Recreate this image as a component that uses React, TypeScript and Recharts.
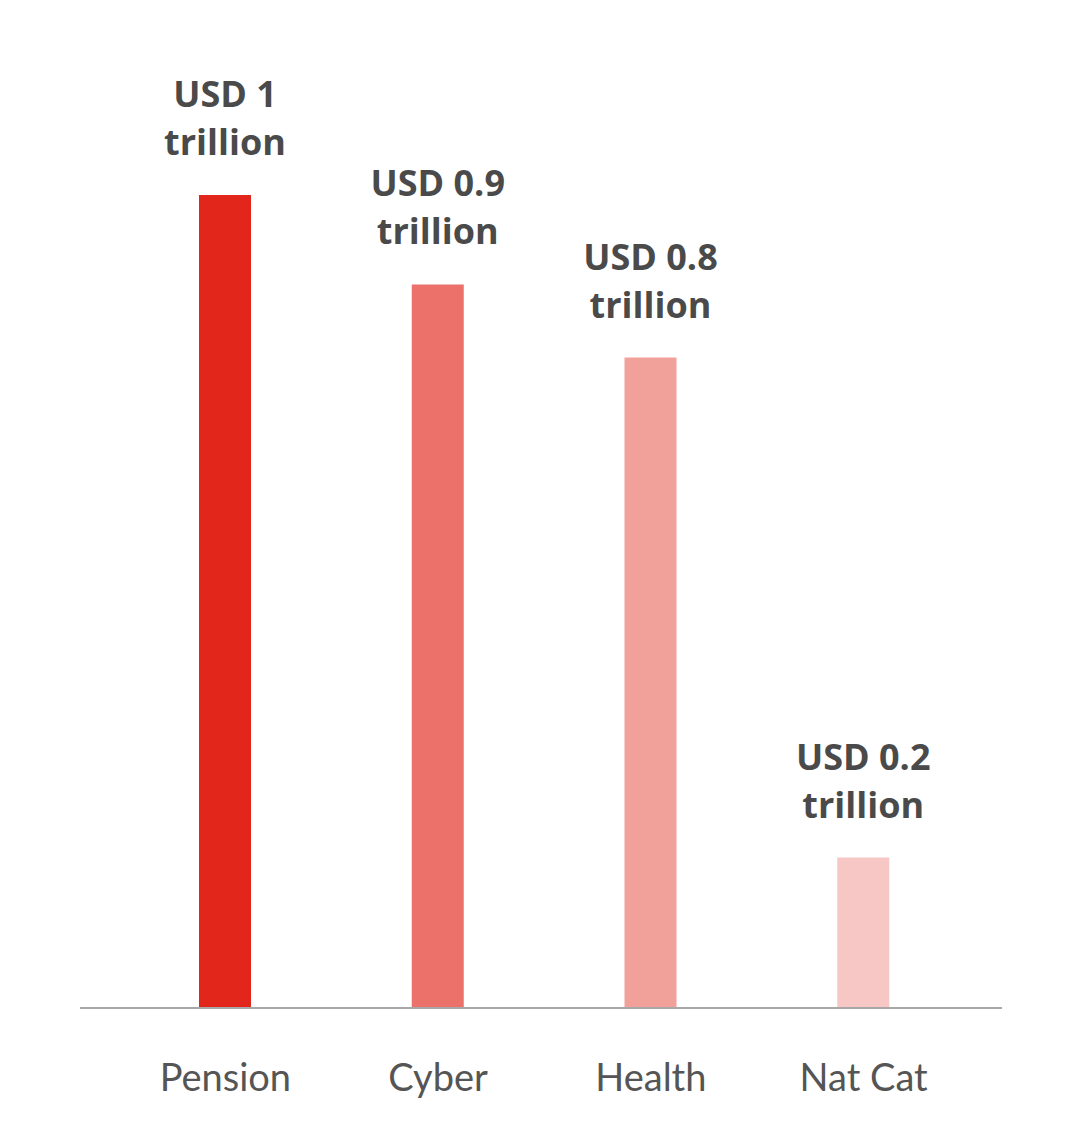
import React from 'react'
import { BarChart, Bar, XAxis, YAxis, Cell, LabelList } from 'recharts'

const categories = ['Pension', 'Cyber', 'Health', 'Nat Cat']
const values = [1, 0.89, 0.8, 0.185]
const labelTop = ['USD 1', 'USD 0.9', 'USD 0.8', 'USD 0.2']
const labelUnit = 'trillion'
const colors = ['#e3261b', '#ec716a', '#f1a09a', '#f7c7c5']

const data = categories.map((name, i) => ({ name, value: values[i] }))

const FONT = '"Open Sans", "Noto Sans", sans-serif'

function CategoryTick(props: any) {
  const { x, y, payload } = props
  return (
    <text x={x} y={y + 75} textAnchor="middle" fill="#555555" fontSize={38} fontFamily="Lato, sans-serif" fontWeight={400}>
      {payload.value}
    </text>
  )
}

function ValueLabel(props: any) {
  const { x, y, width, index } = props
  const cx = x + width / 2
  return (
    <text textAnchor="middle" fill="#4a4a4a" fontSize={36} fontWeight={700} fontFamily={FONT}>
      <tspan x={cx} y={y - 88}>{labelTop[index]}</tspan>
      <tspan x={cx} y={y - 40}>{labelUnit}</tspan>
    </text>
  )
}

export default function App() {
  return (
    <div style={{ position: 'absolute', left: 0, top: 0, background: '#fff' }}>
      <BarChart
        width={1089}
        height={1142}
        data={data}
        margin={{ top: 195, right: 87, bottom: 34, left: 80 }}
      >
        <XAxis
          dataKey="name"
          padding={{ left: 39, right: 32 }}
          axisLine={{ stroke: '#a8a8a8', strokeWidth: 2 }}
          tickLine={false}
          tick={<CategoryTick />}
          height={100}
          interval={0}
        />
        <YAxis hide domain={[0, 1]} />
        <Bar dataKey="value" barSize={52} isAnimationActive={false}>
          {data.map((d, i) => (
            <Cell key={d.name} fill={colors[i]} />
          ))}
          <LabelList dataKey="value" content={<ValueLabel />} />
        </Bar>
      </BarChart>
    </div>
  )
}
